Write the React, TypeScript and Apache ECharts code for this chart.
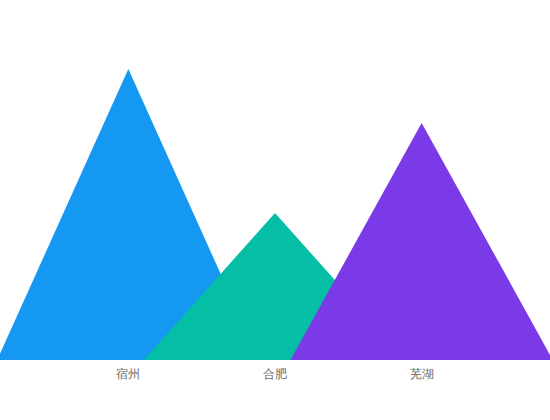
import { useEffect, useRef } from 'react'
import * as echarts from 'echarts'

const categories = ['宿州', '合肥', '芜湖']
const values = [97, 49, 79]
const colors = ['#1598F1', '#04BFA5', '#7B3AE7']

export default function App() {
  const chartRef = useRef<HTMLDivElement>(null)

  useEffect(() => {
    document.body.style.margin = '0'
    if (!chartRef.current) return
    const chart = echarts.init(chartRef.current, undefined, { renderer: 'svg' })

    const option = {
      animation: false,
      grid: { left: '10%', right: '10%', top: 60, bottom: 60 },
      xAxis: {
        type: 'category',
        data: categories,
        axisLine: { show: false },
        axisTick: { show: false },
        axisLabel: { color: '#666', fontSize: 12, margin: 8 },
      },
      yAxis: {
        type: 'value',
        min: 0,
        max: 100,
        show: false,
        splitLine: { show: false },
      },
      series: [
        {
          type: 'pictorialBar',
          barCategoryGap: '-79%',
          symbol: 'path://M0,10 L10,10 L5,0 L0,10 z',
          symbolSize: ['100%', '100%'],
          data: values.map((v, i) => ({
            value: v,
            itemStyle: { color: colors[i], opacity: 1 },
          })),
        },
      ],
    }

    chart.setOption(option)
    return () => {
      chart.dispose()
    }
  }, [])

  return <div ref={chartRef} style={{ width: '550px', height: '420px' }} />
}
